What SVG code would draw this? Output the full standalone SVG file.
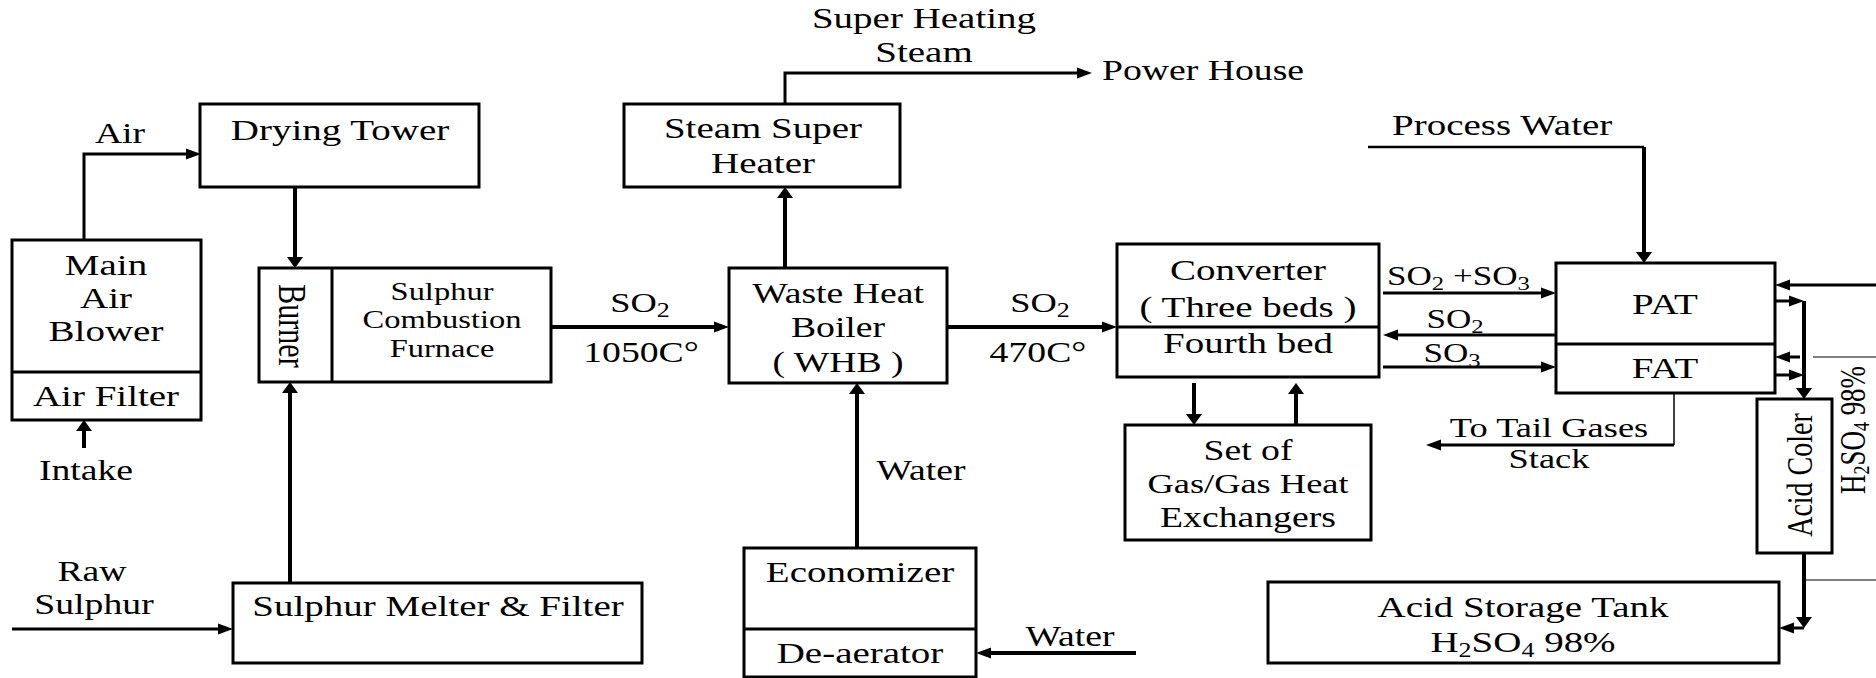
<svg xmlns="http://www.w3.org/2000/svg" width="1876" height="678" viewBox="0 0 1876 678">
<style>
text{font-family:"Liberation Serif","Times New Roman",serif;font-size:30px;text-anchor:middle;fill:#000}
.st{text-anchor:start}
.f29{font-size:29px}.f28{font-size:28px}.f27{font-size:27px}.f25{font-size:25px}
.box{fill:#fff;stroke:#000;stroke-width:3}
.div{stroke:#000;stroke-width:3}
.ln{fill:none;stroke:#000;stroke-width:4}
.m{stroke-width:3}
.thin{fill:none;stroke:#000;stroke-width:1.5}
.hair{fill:none;stroke:#000;stroke-width:1}
.h{marker-end:url(#ah)}
.v{marker-end:url(#av)}
</style>
<defs>
<marker id="ah" markerUnits="userSpaceOnUse" markerWidth="15" markerHeight="11" refX="8" refY="5.5" orient="auto" overflow="visible"><path d="M0,0 L15,5.5 L0,11 z" fill="#000"/></marker>
<marker id="av" markerUnits="userSpaceOnUse" markerWidth="11" markerHeight="16" refX="5" refY="8" orient="auto" overflow="visible"><path d="M0,0 L11,8 L0,16 z" fill="#000"/></marker>
</defs>
<rect width="1876" height="678" fill="#fff"/>

<g id="connectors">
<path class="ln m h" d="M84,240 V154 H194"/>
<path class="ln v" d="M84,448 V426"/>
<path class="ln v" d="M295,187 V262"/>
<path class="ln v" d="M290,583 V388"/>
<path class="ln m h" d="M12,629 H226"/>
<path class="ln h" d="M551,327 H722"/>
<path class="ln v" d="M785,268 V193"/>
<path class="ln m h" d="M785,104 V73 H1085"/>
<path class="ln v" d="M857,548 V389"/>
<path class="ln h" d="M1136,653 H983"/>
<path class="ln h" d="M947,327 H1110"/>
<path class="ln v" d="M1194,383 V419"/>
<path class="ln v" d="M1296,425 V389"/>
<path class="ln m h" d="M1383,293 H1549"/>
<path class="ln m h" d="M1556,335 H1390"/>
<path class="ln m h" d="M1383,367 H1549"/>
<path class="thin" style="stroke-width:2.5" d="M1368,147 H1644"/>
<path class="ln v" d="M1644,147 V257"/>
<path class="thin" d="M1674,393 V445"/>
<path class="ln m h" d="M1674,445 H1433"/>
<path class="ln m h" d="M1876,285 H1782"/>
<path class="ln m h" d="M1775,301 H1797"/>
<path class="ln m h" d="M1800,357 H1782"/>
<path class="ln m h" d="M1775,375 H1797"/>
<path class="ln v" d="M1804,301 V393"/>
<path class="ln v" d="M1804,553 V622"/>
<path class="ln m h" d="M1804,628 H1786"/>
<path class="hair" d="M1813,357 H1876"/>
<path class="hair" d="M1805,580 H1876"/>
</g>

<g id="labels">
<text class="f29" transform="translate(120,143) scale(1.3,1)">Air</text>
<text class="f29" transform="translate(86,480) scale(1.3,1)">Intake</text>
<text class="f29" transform="translate(92,581) scale(1.3,1)">Raw</text>
<text class="f29" transform="translate(94,614) scale(1.3,1)">Sulphur</text>
<text class="f28" transform="translate(640,312) scale(1.3,1)">SO<tspan font-size="20" dy="5">2</tspan></text>
<text class="f29" transform="translate(641,362) scale(1.3,1)">1050C°</text>
<text class="f28" transform="translate(1040,312) scale(1.3,1)">SO<tspan font-size="20" dy="5">2</tspan></text>
<text class="f29" transform="translate(1038,362) scale(1.3,1)">470C°</text>
<text transform="translate(924,28) scale(1.3,1)">Super Heating</text>
<text transform="translate(924,62) scale(1.3,1)">Steam</text>
<text class="f29 st" transform="translate(1102,80) scale(1.3,1)">Power House</text>
<text class="f29" transform="translate(921,480) scale(1.3,1)">Water</text>
<text class="f29" transform="translate(1070,646) scale(1.3,1)">Water</text>
<text class="st" transform="translate(1392,135) scale(1.3,1)">Process Water</text>
<text class="f27 st" transform="translate(1387,285) scale(1.3,1)">SO<tspan font-size="19" dy="5">2</tspan><tspan dy="-5"> +SO</tspan><tspan font-size="19" dy="5">3</tspan></text>
<text class="f27" transform="translate(1455,328) scale(1.3,1)">SO<tspan font-size="19" dy="5">2</tspan></text>
<text class="f27" transform="translate(1452,362) scale(1.3,1)">SO<tspan font-size="19" dy="5">3</tspan></text>
<text class="f28" transform="translate(1549,437) scale(1.3,1)">To Tail Gases</text>
<text class="f28" transform="translate(1549,468) scale(1.3,1)">Stack</text>
<text class="f27" transform="translate(1865,430) scale(1.3,1) rotate(-90)">H<tspan font-size="18" dy="3">2</tspan><tspan dy="-3">SO</tspan><tspan font-size="18" dy="3">4</tspan><tspan dy="-3"> 98%</tspan></text>
</g>

<g id="main-air-blower">
<rect class="box" x="12" y="240" width="189" height="180"/>
<line class="div" x1="12" y1="372" x2="201" y2="372"/>
<text transform="translate(106,275) scale(1.3,1)">Main</text>
<text transform="translate(106,308) scale(1.3,1)">Air</text>
<text transform="translate(106,341) scale(1.3,1)">Blower</text>
<text transform="translate(106,406) scale(1.3,1)">Air Filter</text>
</g>

<g id="drying-tower">
<rect class="box" x="200" y="104" width="279" height="83"/>
<text transform="translate(340,140) scale(1.3,1)">Drying Tower</text>
</g>

<g id="burner-furnace">
<rect class="box" x="259" y="268" width="292" height="114"/>
<line class="div" x1="332" y1="268" x2="332" y2="382"/>
<text transform="translate(279,326) scale(1.3,1) rotate(90)">Burner</text>
<text class="f25" transform="translate(442,300) scale(1.3,1)">Sulphur</text>
<text class="f25" transform="translate(442,328) scale(1.3,1)">Combustion</text>
<text class="f25" transform="translate(442,357) scale(1.3,1)">Furnace</text>
</g>

<g id="sulphur-melter">
<rect class="box" x="233" y="583" width="409" height="80"/>
<text transform="translate(438,616) scale(1.3,1)">Sulphur Melter &amp; Filter</text>
</g>

<g id="waste-heat-boiler">
<rect class="box" x="729" y="268" width="218" height="115"/>
<text class="f29" transform="translate(838,303) scale(1.3,1)">Waste Heat</text>
<text class="f29" transform="translate(838,337) scale(1.3,1)">Boiler</text>
<text class="f29" transform="translate(838,372) scale(1.3,1)">( WHB )</text>
</g>

<g id="steam-super-heater">
<rect class="box" x="624" y="104" width="276" height="83"/>
<text transform="translate(763,138) scale(1.3,1)">Steam Super</text>
<text transform="translate(763,173) scale(1.3,1)">Heater</text>
</g>

<g id="economizer">
<rect class="box" x="744" y="548" width="232" height="129"/>
<line class="div" x1="744" y1="629" x2="976" y2="629"/>
<text transform="translate(860,582) scale(1.3,1)">Economizer</text>
<text transform="translate(860,663) scale(1.3,1)">De-aerator</text>
</g>

<g id="converter">
<rect class="box" x="1117" y="244" width="262" height="133"/>
<line class="div" x1="1117" y1="327" x2="1379" y2="327"/>
<text transform="translate(1248,280) scale(1.3,1)">Converter</text>
<text transform="translate(1248,317) scale(1.3,1)">( Three beds )</text>
<text transform="translate(1248,353) scale(1.3,1)">Fourth bed</text>
</g>

<g id="gas-heat-exchangers">
<rect class="box" x="1125" y="425" width="246" height="115"/>
<text class="f29" transform="translate(1248,460) scale(1.3,1)">Set of</text>
<text class="f28" transform="translate(1248,493) scale(1.3,1)">Gas/Gas Heat</text>
<text class="f29" transform="translate(1248,527) scale(1.3,1)">Exchangers</text>
</g>

<g id="pat-fat">
<rect class="box" x="1556" y="263" width="219" height="130"/>
<line class="div" x1="1556" y1="344" x2="1775" y2="344"/>
<text transform="translate(1665,314) scale(1.3,1)">PAT</text>
<text transform="translate(1665,378) scale(1.3,1)">FAT</text>
</g>

<g id="acid-cooler">
<rect class="box" x="1757" y="399" width="75" height="154"/>
<text class="f28" transform="translate(1812,475) scale(1.3,1) rotate(-90)">Acid Coler</text>
</g>

<g id="acid-storage-tank">
<rect class="box" x="1268" y="582" width="511" height="81"/>
<text transform="translate(1523,617) scale(1.3,1)">Acid Storage Tank</text>
<text transform="translate(1523,652) scale(1.3,1)">H<tspan font-size="20" dy="5">2</tspan><tspan dy="-5">SO</tspan><tspan font-size="20" dy="5">4</tspan><tspan dy="-5"> 98%</tspan></text>
</g>
</svg>
